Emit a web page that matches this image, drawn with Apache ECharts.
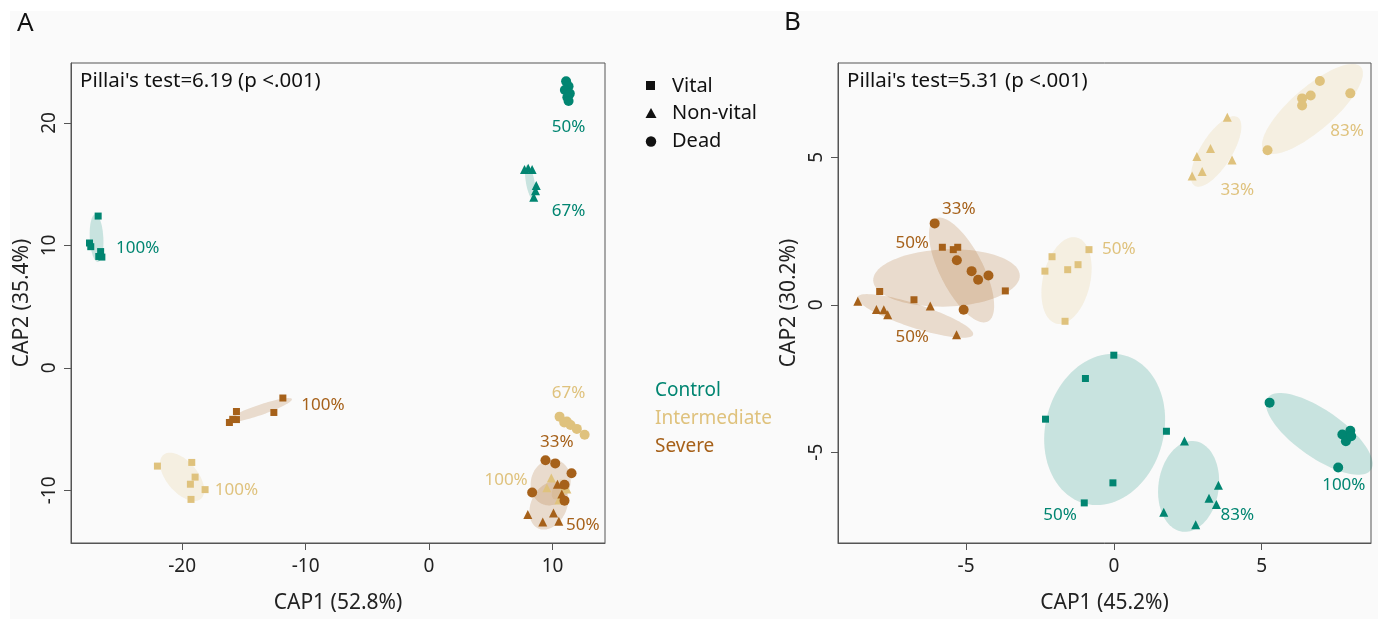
<!DOCTYPE html>
<html><head><meta charset="utf-8">
<script src="https://cdn.jsdelivr.net/npm/echarts@6/dist/echarts.min.js"></script>
<style>
html,body{margin:0;padding:0;background:#fff;}
#bg{position:absolute;left:10px;top:11px;right:0;bottom:0;background:#fafafa;}
#chart{position:absolute;left:0;top:0;width:1378px;height:619px;}
</style></head>
<body><div id="bg"></div><div id="chart"></div>
<script>
// ---------- colours ----------
const COL = { Control: '#018571', Intermediate: '#dfc27d', Severe: '#a6611a' };
const FILL = { Control: 'rgba(1,133,113,0.2)', Intermediate: 'rgba(223,194,125,0.2)', Severe: 'rgba(166,97,26,0.2)' };

// ---------- axis ticks ----------
const A_xTicks = [-20, -10, 0, 10];
const A_yTicks = [-10, 0, 10, 20];
const B_xTicks = [-5, 0, 5];
const B_yTicks = [-5, 0, 5];
const A_xRange = [-29.0, 14.25];
const A_yRange = [-14.3, 24.9];
const B_xRange = [-9.33, 8.7];
const B_yRange = [-8.08, 8.2];

// ---------- Panel A points ----------
const A_controlVital = [[-26.8,12.4],[-27.5,10.2],[-27.4,9.9],[-26.6,9.5],[-26.75,9.1],[-26.5,9.05]];
const A_controlNonvital = [[7.73,16.2],[8.03,16.3],[8.35,16.2],[8.68,14.9],[8.62,14.46],[8.48,13.94]];
const A_controlDead = [[11.1,23.4],[11.3,23.0],[11.0,22.7],[11.4,22.4],[11.2,22.1],[11.3,21.8]];
const A_interVital = [[-22.0,-8.02],[-19.22,-7.72],[-18.95,-8.92],[-19.33,-9.5],[-18.14,-9.94],[-19.28,-10.74]];
const A_interNonvital = [[9.9,-9.0],[9.54,-9.78],[10.97,-9.64],[11.16,-9.9],[10.7,-10.38],[10.51,-10.78]];
const A_interDead = [[10.57,-3.98],[10.95,-4.46],[11.16,-4.38],[11.46,-4.66],[11.97,-4.98],[12.6,-5.46]];
const A_severeVital = [[-11.84,-2.46],[-12.57,-3.64],[-15.6,-3.56],[-15.6,-4.22],[-16.17,-4.46],[-15.9,-4.2]];
const A_severeNonvital = [[8.0,-11.98],[9.21,-12.58],[10.08,-11.86],[10.51,-12.52],[10.4,-9.5],[10.75,-10.3]];
const A_severeDead = [[9.43,-7.54],[10.22,-7.8],[11.54,-8.6],[8.35,-10.18],[10.97,-9.54],[10.97,-10.84]];

// ---------- Panel A ellipses [cx, cy, semiA, semiB, angleDeg] ----------
const A_ellControl = [[-26.93,10.6,1.95,0.55,93],[8.2,15.15,1.45,0.35,100]];
const A_ellIntermediate = [[-20.0,-8.9,2.35,1.25,-50],[10.5,-9.9,0.9,0.45,65]];
const A_ellSevere = [[-13.76,-3.46,2.8,0.42,19],[9.85,-9.35,1.9,1.6,75],[9.7,-11.25,2.05,1.45,65]];

// ---------- Panel A percentage labels [x, y, text] ----------
const A_lblControl = [[-23.6,9.8,'100%'],[11.3,19.7,'50%'],[11.3,12.8,'67%']];
const A_lblIntermediate = [[-15.6,-10.0,'100%'],[11.3,-2.1,'67%'],[6.24,-9.18,'100%']];
const A_lblSevere = [[-8.6,-3.05,'100%'],[10.35,-6.07,'33%'],[12.46,-12.86,'50%']];

// ---------- Panel B points ----------
const B_controlVital = [[-2.31,-3.88],[-0.96,-2.5],[0,-1.71],[1.78,-4.29],[-0.03,-6.04],[-1.0,-6.72]];
const B_controlNonvital = [[2.39,-4.62],[3.54,-6.12],[3.22,-6.56],[3.47,-6.77],[1.69,-7.04],[2.77,-7.46]];
const B_controlDead = [[5.27,-3.32],[7.73,-4.40],[8.0,-4.27],[7.85,-4.63],[8.03,-4.46],[7.59,-5.52]];
const B_interVital = [[-2.33,1.14],[-2.09,1.63],[-1.56,1.19],[-1.21,1.36],[-0.84,1.87],[-1.65,-0.56]];
const B_interNonvital = [[2.65,4.37],[2.81,5.03],[2.99,4.52],[3.27,5.30],[3.84,6.36],[4.0,4.91]];
const B_interDead = [[5.2,5.24],[6.37,7.0],[6.37,6.76],[6.66,7.10],[6.97,7.59],[8.0,7.17]];
const B_severeVital = [[-5.8,1.95],[-5.43,1.87],[-5.28,1.95],[-7.92,0.45],[-6.76,0.17],[-3.67,0.47]];
const B_severeNonvital = [[-8.66,0.12],[-8.03,-0.16],[-7.78,-0.17],[-7.65,-0.34],[-6.21,-0.04],[-5.32,-1.02]];
const B_severeDead = [[-6.06,2.76],[-5.31,1.51],[-4.81,1.14],[-4.59,0.85],[-4.24,0.99],[-5.08,-0.17]];

// ---------- Panel B ellipses ----------
const B_ellControl = [[-0.31,-4.23,2.6,2.0,75],[2.53,-6.16,1.55,1.02,82],[6.95,-4.38,2.13,0.8,-35]];
const B_ellIntermediate = [[-1.6,0.82,1.5,0.8,77],[3.46,5.2,1.37,0.53,58],[6.72,6.64,2.17,0.73,41]];
const B_ellSevere = [[-5.66,0.91,2.48,0.97,2],[-5.15,1.18,1.96,0.73,117],[-6.72,-0.38,2.06,0.4,-18]];

// ---------- Panel B labels ----------
const B_lblControl = [[-1.82,-7.13,'50%'],[4.18,-7.13,'83%'],[7.78,-6.12,'100%']];
const B_lblIntermediate = [[0.17,1.88,'50%'],[4.18,3.89,'33%'],[7.89,5.9,'83%']];
const B_lblSevere = [[-5.24,3.23,'33%'],[-6.82,2.1,'50%'],[-6.82,-1.11,'50%']];

const FONT = 'Noto Sans';
const AXC = '#555';

function ellipseSeries(data, group, idx) {
  return {
    type: 'custom', xAxisIndex: idx, yAxisIndex: idx, z: 1, silent: true,
    data: data, encode: { x: 0, y: 1 },
    renderItem: function (params, api) {
      const cx = api.value(0), cy = api.value(1), a = api.value(2), b = api.value(3);
      const ang = api.value(4) * Math.PI / 180;
      const pts = [];
      for (let i = 0; i < 96; i++) {
        const t = 2 * Math.PI * i / 96;
        const x = cx + a * Math.cos(t) * Math.cos(ang) - b * Math.sin(t) * Math.sin(ang);
        const y = cy + a * Math.cos(t) * Math.sin(ang) + b * Math.sin(t) * Math.cos(ang);
        pts.push(api.coord([x, y]));
      }
      return { type: 'polygon', shape: { points: pts }, style: { fill: FILL[group] } };
    }
  };
}
function labelSeries(data, group, idx) {
  return {
    type: 'custom', xAxisIndex: idx, yAxisIndex: idx, z: 3, silent: true,
    data: data.map(d => [d[0], d[1]]), encode: { x: 0, y: 1 },
    renderItem: function (params, api) {
      const p = api.coord([api.value(0), api.value(1)]);
      return { type: 'text', x: p[0], y: p[1],
        style: { text: data[params.dataIndex][2], fill: COL[group], font: '17px "' + FONT + '"', align: 'center', verticalAlign: 'middle' } };
    }
  };
}
function pts(data, group, shape, idx) {
  const size = shape === 'circle' ? 10 : (shape === 'triangle' ? 9 : 7);
  return { type: 'scatter', xAxisIndex: idx, yAxisIndex: idx, z: 2, silent: true,
    symbol: shape, symbolSize: size, data: data,
    itemStyle: { color: COL[group], opacity: 1 } };
}
function xAxis(idx, range, ticks, name) {
  return { gridIndex: idx, type: 'value', min: range[0], max: range[1],
    axisLine: { show: true, onZero: false, lineStyle: { color: AXC, width: 1 } },
    axisTick: { show: true, customValues: ticks, length: 7, lineStyle: { color: AXC } },
    axisLabel: { customValues: ticks, fontSize: 19, color: '#222', margin: 14, fontFamily: FONT },
    splitLine: { show: false },
    name: name, nameLocation: 'middle', nameGap: 50,
    nameTextStyle: { fontSize: 21, color: '#222', fontFamily: FONT } };
}
function yAxis(idx, range, ticks, name) {
  return { gridIndex: idx, type: 'value', min: range[0], max: range[1],
    axisLine: { show: true, onZero: false, lineStyle: { color: AXC, width: 1 } },
    axisTick: { show: true, customValues: ticks, length: 7, lineStyle: { color: AXC } },
    axisLabel: { customValues: ticks, fontSize: 19, color: '#222', margin: 12, rotate: 90, fontFamily: FONT },
    splitLine: { show: false },
    name: name, nameLocation: 'middle', nameGap: 38, nameRotate: 90,
    nameTextStyle: { fontSize: 21, color: '#222', fontFamily: FONT } };
}

const series = [
  ellipseSeries(A_ellControl, 'Control', 0),
  ellipseSeries(A_ellIntermediate, 'Intermediate', 0),
  ellipseSeries(A_ellSevere, 'Severe', 0),
  ellipseSeries(B_ellControl, 'Control', 1),
  ellipseSeries(B_ellIntermediate, 'Intermediate', 1),
  ellipseSeries(B_ellSevere, 'Severe', 1),
  pts(A_controlVital, 'Control', 'rect', 0),
  pts(A_controlNonvital, 'Control', 'triangle', 0),
  pts(A_controlDead, 'Control', 'circle', 0),
  pts(A_interVital, 'Intermediate', 'rect', 0),
  pts(A_interNonvital, 'Intermediate', 'triangle', 0),
  pts(A_interDead, 'Intermediate', 'circle', 0),
  pts(A_severeVital, 'Severe', 'rect', 0),
  pts(A_severeNonvital, 'Severe', 'triangle', 0),
  pts(A_severeDead, 'Severe', 'circle', 0),
  pts(B_controlVital, 'Control', 'rect', 1),
  pts(B_controlNonvital, 'Control', 'triangle', 1),
  pts(B_controlDead, 'Control', 'circle', 1),
  pts(B_interVital, 'Intermediate', 'rect', 1),
  pts(B_interNonvital, 'Intermediate', 'triangle', 1),
  pts(B_interDead, 'Intermediate', 'circle', 1),
  pts(B_severeVital, 'Severe', 'rect', 1),
  pts(B_severeNonvital, 'Severe', 'triangle', 1),
  pts(B_severeDead, 'Severe', 'circle', 1),
  labelSeries(A_lblControl, 'Control', 0),
  labelSeries(A_lblIntermediate, 'Intermediate', 0),
  labelSeries(A_lblSevere, 'Severe', 0),
  labelSeries(B_lblControl, 'Control', 1),
  labelSeries(B_lblIntermediate, 'Intermediate', 1),
  labelSeries(B_lblSevere, 'Severe', 1)
];

const txt = (x, y, s, size, color, extra) => Object.assign({ type: 'text', x: x, y: y,
  style: { text: s, fill: color || '#111', font: size + 'px "' + FONT + '"', verticalAlign: 'middle' } }, extra || {});

const graphic = [
  txt(17, 24, 'A', 26, '#111'),
  txt(784, 23, 'B', 26, '#111'),
  txt(80, 81, "Pillai's test=6.19 (p <.001)", 20.5, '#111'),
  txt(847, 81, "Pillai's test=5.31 (p <.001)", 20.5, '#111'),
  { type: 'rect', shape: { x: 646, y: 81, width: 9, height: 9 }, style: { fill: '#111' } },
  { type: 'polygon', shape: { points: [[645.5, 118], [656.5, 118], [651, 108]] }, style: { fill: '#111' } },
  { type: 'circle', shape: { cx: 651, cy: 141.5, r: 5.2 }, style: { fill: '#111' } },
  txt(672, 86, 'Vital', 20, '#111'),
  txt(672, 113, 'Non-vital', 20, '#111'),
  txt(672, 141, 'Dead', 20, '#111'),
  txt(655, 391, 'Control', 19, COL.Control),
  txt(655, 419, 'Intermediate', 19, COL.Intermediate),
  txt(655, 447, 'Severe', 19, COL.Severe)
];

const chart = echarts.init(document.getElementById('chart'), null, { renderer: 'canvas' });
chart.setOption({
  backgroundColor: 'transparent',
  animation: false,
  textStyle: { fontFamily: FONT },
  grid: [
    { left: 71, top: 63, width: 534, height: 489, show: true, borderColor: AXC, borderWidth: 1, backgroundColor: 'transparent' },
    { left: 838, top: 63, width: 533, height: 489, show: true, borderColor: AXC, borderWidth: 1, backgroundColor: 'transparent' }
  ],
  xAxis: [xAxis(0, A_xRange, A_xTicks, 'CAP1 (52.8%)'), xAxis(1, B_xRange, B_xTicks, 'CAP1 (45.2%)')],
  yAxis: [yAxis(0, A_yRange, A_yTicks, 'CAP2 (35.4%)'), yAxis(1, B_yRange, B_yTicks, 'CAP2 (30.2%)')],
  graphic: graphic,
  series: series
});
</script></body></html>
